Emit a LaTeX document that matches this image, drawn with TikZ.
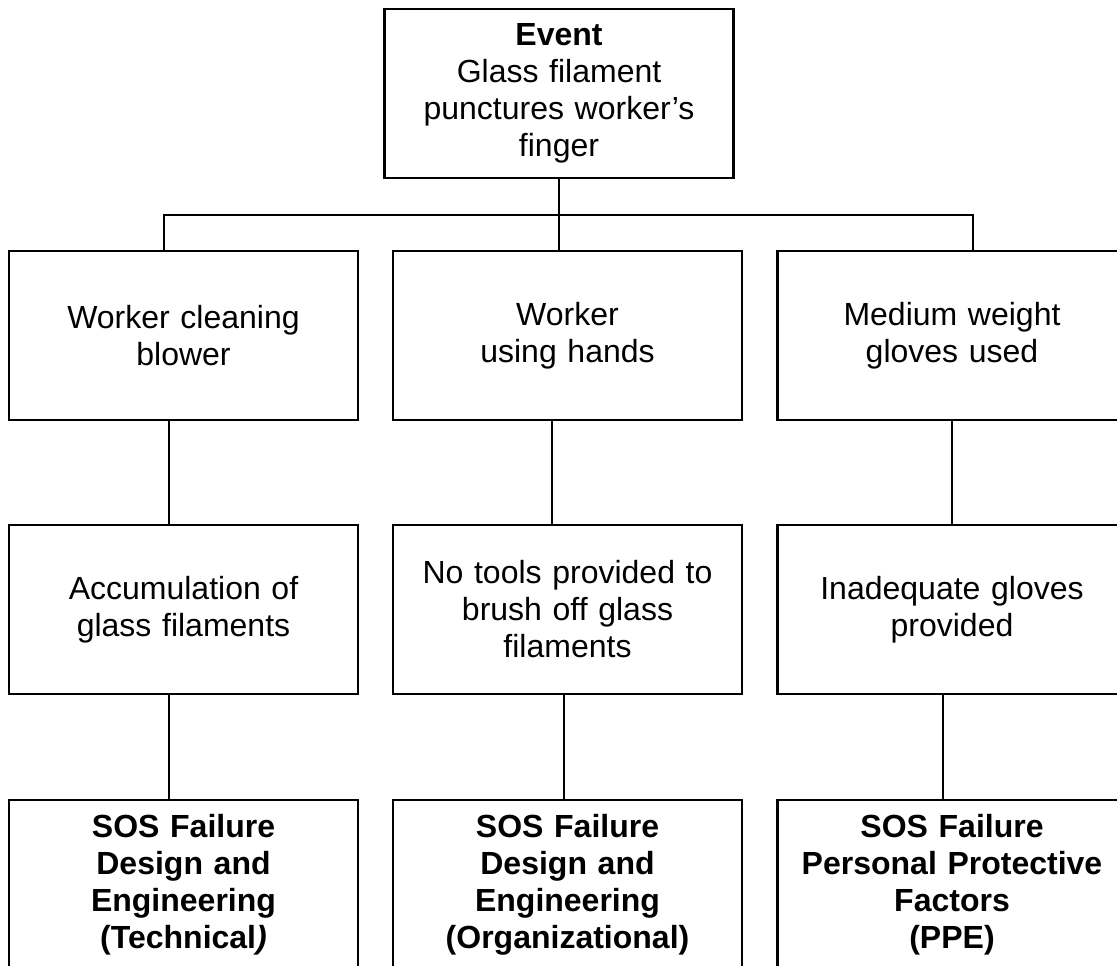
\documentclass[tikz,border=0pt]{standalone}
\usepackage{fontspec}
\setmainfont{Liberation Sans}
\tikzset{
  box/.style={
    rectangle, draw=black, line width=1.1pt,
    minimum width=174.5pt, minimum height=84.5pt,
    text width=170pt, align=center, inner sep=0pt,
    font=\fontsize{16}{18.5}\selectfont
  },
  sos/.style={
    box, font=\fontsize{16}{18.5}\selectfont\bfseries
  },
  link/.style={
    draw=black, line width=0.9pt
  }
}

\begin{document}
\begin{tikzpicture}[x=0.5pt, y=-0.5pt]
      \useasboundingbox (0,0) rectangle (1117,965);
      \clip (0,0) rectangle (1117,965);

      % Event (top)
      \node[box] (ev) at (559,93.5) {\textbf{Event}\\Glass filament\\punctures worker's\\finger};

      % What happened
      \node[box] (w1) at (183.5,335.5) {Worker cleaning\\blower};
      \node[box] (w2) at (567.5,335.5) {Worker\\using hands};
      \node[box] (w3) at (952,335.5) {Medium weight\\gloves used};

      % Why it happened
      \node[box] (a1) at (183.5,609.5) {Accumulation of\\glass filaments};
      \node[box] (a2) at (567.5,609.5) {No tools provided to\\brush off glass\\filaments};
      \node[box] (a3) at (952,609.5) {Inadequate gloves\\provided};

      % SOS failures
      \node[sos] (s1) at (183.5,884.5) {SOS Failure\\Design and\\Engineering\\(Technical\textit{)}};
      \node[sos] (s2) at (567.5,884.5) {SOS Failure\\Design and\\Engineering\\(Organizational)};
      \node[sos] (s3) at (952,884.5) {SOS Failure\\Personal Protective\\Factors\\(PPE)};

      % Branching below the event
      \coordinate (bus) at ([yshift=-18pt]ev.south);
      \draw[link] (ev.south) -- (ev.south |- w2.north);
      \draw[link] ([xshift=-9.75pt]w1.north) |- (bus) -| ([xshift=10.5pt]w3.north);

      % Columns
      \draw[link] ([xshift=-7.25pt]w1.south) -- ([xshift=-7.25pt]a1.north);
      \draw[link] ([xshift=-7.75pt]w2.south) -- ([xshift=-7.75pt]a2.north);
      \draw[link] (w3.south) -- (a3.north);

      \draw[link] ([xshift=-7.25pt]a1.south) -- ([xshift=-7.25pt]s1.north);
      \draw[link] ([xshift=-1.75pt]a2.south) -- ([xshift=-1.75pt]s2.north);
      \draw[link] ([xshift=-4.5pt]a3.south) -- ([xshift=-4.5pt]s3.north);
\end{tikzpicture}
\end{document}
